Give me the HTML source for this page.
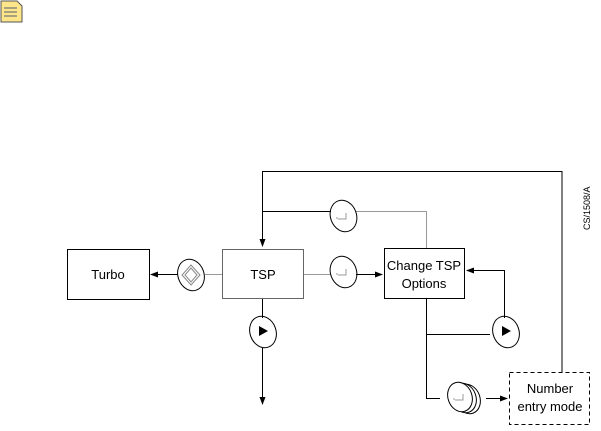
<!DOCTYPE html>
<html><head><style>body{margin:0;background:#fff;width:601px;height:426px;overflow:hidden}</style></head>
<body>
<svg width="601" height="426" xmlns="http://www.w3.org/2000/svg" font-family="Liberation Sans, sans-serif">
<defs><marker id="a" markerWidth="8" markerHeight="8" refX="7" refY="4" orient="auto" markerUnits="userSpaceOnUse"><path d="M0,1 L8,4 L0,7z" fill="#000"/></marker></defs>
<path d="M1,1 H17 L22,6 V22 H1z" fill="#fde58a" stroke="#555"/>
<path d="M4,8H17M4,12H17M4,16H17" stroke="#777" stroke-width="1.3"/>
<text transform="translate(590,230) rotate(-90)" font-size="9" fill="#000">CS/1508/A</text>
<g fill="none" stroke="#000">
<rect x="67.5" y="249.5" width="82" height="50"/>
<rect x="222.5" y="249.5" width="81" height="49" stroke="#666"/>
<rect x="384.5" y="248.5" width="80" height="50"/>
<rect x="509.5" y="372.5" width="80" height="52" stroke-dasharray="4,3"/>
<path d="M562,372 V171.5 H262.5 V246" marker-end="url(#a)"/>
<path d="M262.5,211.5 H331"/>
<path d="M356,211.5 H426.5 V248" stroke="#999"/>
<path d="M304,274.5 H331" stroke="#999"/>
<path d="M356,274.5 H382" marker-end="url(#a)"/>
<path d="M222,274.5 H205" stroke="#999"/>
<path d="M178,274.5 H151" marker-end="url(#a)"/>
<path d="M262.5,299 V318"/>
<path d="M262.5,348 V404" marker-end="url(#a)"/>
<path d="M426.5,299 V398.5 H440"/>
<path d="M426.5,334.5 H490"/>
<path d="M504.5,318 V270.5 H467" marker-end="url(#a)"/>
<path d="M486,398.5 H507" marker-end="url(#a)"/>
<ellipse cx="343.5" cy="216" rx="13" ry="16" transform="rotate(-20 343.5 216)"/>
<ellipse cx="343.5" cy="272" rx="13" ry="16" transform="rotate(-20 343.5 272)"/>
<ellipse cx="191" cy="275" rx="13" ry="16" transform="rotate(-20 191 275)"/>
<ellipse cx="263" cy="332" rx="13" ry="16" transform="rotate(-20 263 332)"/>
<ellipse cx="506" cy="332" rx="13" ry="16" transform="rotate(-20 506 332)"/>
<ellipse cx="468" cy="399" rx="12" ry="15" transform="rotate(-20 468 399)"/>
<ellipse cx="464" cy="398" rx="12" ry="15" transform="rotate(-20 464 398)" fill="#fff"/>
<ellipse cx="460" cy="397" rx="12" ry="15" transform="rotate(-20 460 397)" fill="#fff"/>
<path d="M191,265 L200,275 L191,285 L182,275z M191,268 L197,275 L191,282 L185,275z" stroke="#888"/>
</g>
<path d="M259,326 L268,331 L259,336z" fill="#000"/>
<path d="M502,326 L511,331 L502,336z" fill="#000"/>
<g stroke="#999" fill="none"><path d="M338,219H346V213M337,217v2"/><path d="M338,275H346V269M337,273v2"/><path d="M455,400H463V394M454,398v2"/></g>
<g font-size="13" text-anchor="middle" fill="#000">
<text x="108" y="279">Turbo</text>
<text x="263" y="279">TSP</text>
<text x="424" y="270">Change TSP</text>
<text x="424" y="288">Options</text>
<text x="550" y="393">Number</text>
<text x="550" y="411">entry mode</text>
</g>
</svg>
</body></html>
